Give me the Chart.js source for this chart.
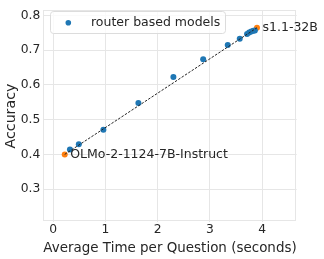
<!DOCTYPE html>
<html>
<head>
<meta charset="utf-8">
<script src="https://cdn.jsdelivr.net/npm/chart.js@4"></script>
<style>
  html, body { margin: 0; padding: 0; background: #fff; }
  #wrap { width: 324px; height: 259px; position: relative; }
</style>
</head>
<body>
<div id="wrap"><canvas id="c"></canvas></div>
<script>
// router based models (avg seconds per question, accuracy)
const routerTime = [0.32, 0.49, 0.96, 1.63, 2.30, 2.87, 3.34, 3.57, 3.71, 3.75, 3.79, 3.83, 3.86];
const routerAcc = [0.414, 0.429, 0.471, 0.548, 0.623, 0.674, 0.715, 0.733, 0.747, 0.751, 0.754, 0.756, 0.757];

// the two base models at the ends of the dashed line
const baseNames = ['OLMo-2-1124-7B-Instruct', 's1.1-32B'];
const baseTime = [0.22, 3.90];
const baseAcc = [0.400, 0.765];

const xTicks = [0, 1, 2, 3, 4];
const yTicks = [0.3, 0.4, 0.5, 0.6, 0.7, 0.8];

const TEXT = '#262626';
const GRID = '#e6e6e6';
const FONT = 'DejaVu Sans, sans-serif';

const pts = (xs, ys) => xs.map((x, i) => ({ x, y: ys[i] }));

const framePlugin = {
  id: 'frame',
  beforeDatasetsDraw(chart) {
    const { ctx, chartArea: a } = chart;
    ctx.save();
    ctx.strokeStyle = GRID;
    ctx.lineWidth = 1;
    ctx.strokeRect(Math.round(a.left) + 0.5, Math.round(a.top) + 0.5,
      Math.round(a.right - a.left) - 1, Math.round(a.bottom - a.top) - 1);
    ctx.restore();
  },
};

const labelsPlugin = {
  id: 'baseLabels',
  afterDatasetsDraw(chart) {
    const { ctx } = chart;
    const xs = chart.scales.x, ys = chart.scales.y;
    ctx.save();
    ctx.fillStyle = TEXT;
    ctx.font = `12.5px ${FONT}`;
    ctx.textAlign = 'left';
    ctx.textBaseline = 'middle';
    baseNames.forEach((name, i) => {
      ctx.fillText(name, xs.getPixelForValue(baseTime[i]) + 5.5, ys.getPixelForValue(baseAcc[i]) + 0.5);
    });

    // legend box inside the axes
    const bx = 50.5, by = 11.5, bw = 175, bh = 22;
    ctx.beginPath();
    ctx.roundRect(bx, by, bw, bh, 3);
    ctx.fillStyle = 'rgba(255,255,255,0.8)';
    ctx.fill();
    ctx.strokeStyle = '#dcdcdc';
    ctx.stroke();
    ctx.beginPath();
    ctx.arc(68.3, 22.7, 2.8, 0, Math.PI * 2);
    ctx.fillStyle = '#1f77b4';
    ctx.fill();
    ctx.fillStyle = TEXT;
    ctx.fillText('router based models', 91, 23);
    ctx.restore();
  },
};

new Chart(document.getElementById('c'), {
  type: 'scatter',
  data: {
    datasets: [
      {
        type: 'line',
        data: pts(baseTime, baseAcc),
        borderColor: '#222',
        borderWidth: 1,
        borderDash: [2.5, 1.5],
        pointRadius: 0,
        fill: false,
        order: 0,
      },
      {
        label: 'router based models',
        data: pts(routerTime, routerAcc),
        backgroundColor: '#1f77b4',
        borderWidth: 0,
        pointRadius: 3,
        order: 1,
      },
      {
        data: pts(baseTime, baseAcc),
        backgroundColor: '#ff7f0e',
        borderWidth: 0,
        pointRadius: 3,
        order: 1,
      },
    ],
  },
  plugins: [framePlugin, labelsPlugin],
  options: {
    responsive: true,
    maintainAspectRatio: false,
    animation: false,
    layout: { padding: { top: 5, right: 27.3, left: 0, bottom: 0 } },
    plugins: {
      legend: { display: false },
      tooltip: { enabled: false },
    },
    scales: {
      x: {
        type: 'linear',
        min: -0.19,
        max: 4.66,
        afterBuildTicks: (s) => { s.ticks = xTicks.map((v) => ({ value: v })); },
        afterFit: (s) => { s.height = 37.3; },
        ticks: { color: TEXT, font: { family: FONT, size: 12.3 }, padding: 1 },
        grid: { color: GRID, drawTicks: false },
        border: { display: false },
        title: {
          display: true,
          text: 'Average Time per Question (seconds)',
          color: TEXT,
          font: { family: FONT, size: 14.2 },
          padding: { top: 0, bottom: 2 },
        },
      },
      y: {
        min: 0.206,
        max: 0.815,
        afterBuildTicks: (s) => { s.ticks = yTicks.map((v) => ({ value: v })); },
        afterFit: (s) => { s.width = 43.3; },
        ticks: {
          color: TEXT,
          font: { family: FONT, size: 12.3 },
          padding: 3,
          callback: (v) => v.toFixed(1),
        },
        grid: { color: GRID, drawTicks: false },
        border: { display: false },
        title: {
          display: true,
          text: 'Accuracy',
          color: TEXT,
          font: { family: FONT, size: 14.2 },
          padding: { top: 3, bottom: 0 },
        },
      },
    },
  },
});
</script>
</body>
</html>
